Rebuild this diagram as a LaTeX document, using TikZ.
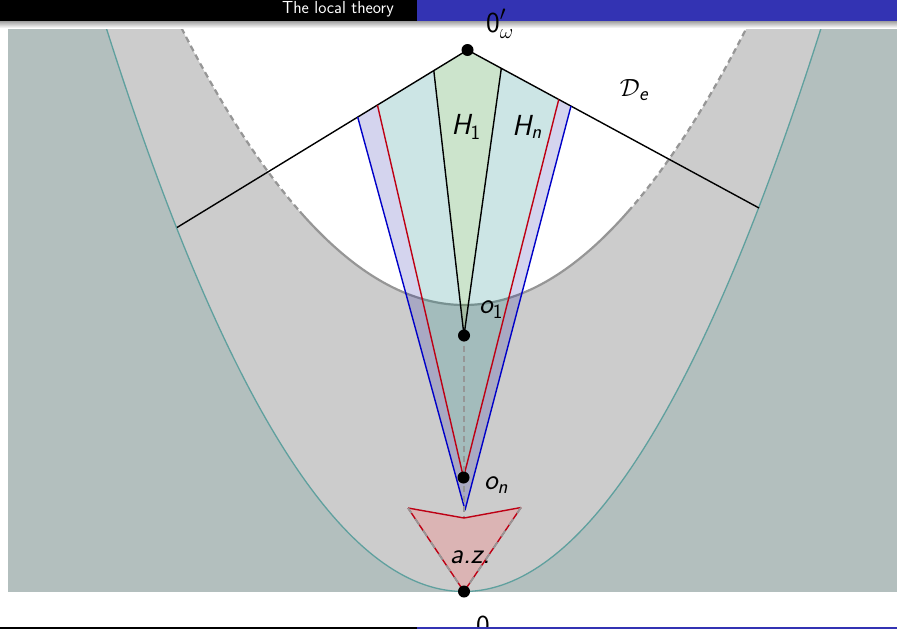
\documentclass[tikz,border=0pt]{standalone}
\usepackage{amsmath}
\usetikzlibrary{calc}
\definecolor{outerg}{RGB}{179,191,190}
\definecolor{innerg}{RGB}{204,204,204}
\definecolor{parab}{RGB}{95,160,158}
\definecolor{hdrblue}{RGB}{51,51,179}
\definecolor{lav}{RGB}{0,0,155}
\definecolor{tealf}{RGB}{0,128,128}
\definecolor{greenf}{RGB}{0,120,0}
\definecolor{azf}{RGB}{219,180,180}
\definecolor{redl}{RGB}{190,0,20}
\definecolor{bluel}{RGB}{0,0,200}
\definecolor{dashg}{RGB}{150,150,150}
\begin{document}
\begin{tikzpicture}[x=1pt,y=-1pt,line join=round,
  lbl/.style={inner sep=0pt,font=\fontsize{29}{34}\selectfont\sffamily},
  dot/.style={circle,fill=black,inner sep=0pt,minimum size=12pt},
  fanline/.style={line width=1.4pt},
  gline/.style={dashg,line width=2.2pt}]
\useasboundingbox (0,0) rectangle (897,629);
% background regions
\fill[outerg] (8,28) rectangle (897,591.5);
\fill[innerg] plot[domain=106.3:821.1,samples=140] (\x,{591.5-44.11*((\x-463.7)/100)^2}) -- cycle;
\fill[white] plot[domain=181.5:746.5,samples=140] (\x,{305-34.7*((\x-464)/100)^2}) -- cycle;
\draw[parab,line width=1.3pt] plot[domain=106.3:821.1,samples=140] (\x,{591.5-44.11*((\x-463.7)/100)^2});
\draw[gline,dash pattern=on 6pt off 4pt] plot[domain=181.5:300,samples=40] (\x,{305-34.7*((\x-464)/100)^2});
\draw[gline,dash pattern=on 6pt off 4pt] plot[domain=628:746.5,samples=40] (\x,{305-34.7*((\x-464)/100)^2});
\draw[gline] plot[domain=300:628,samples=80] (\x,{305-34.7*((\x-464)/100)^2});
% key points
\coordinate (Op) at (467.5,50);
\coordinate (Lend) at (177,227.5);
\coordinate (Rend) at (759,208);
\coordinate (H1L) at ($(Op)!0.116!(Lend)$);
\coordinate (RL) at ($(Op)!0.31!(Lend)$);
\coordinate (BL) at ($(Op)!0.378!(Lend)$);
\coordinate (H1R) at ($(Op)!0.116!(Rend)$);
\coordinate (RR) at ($(Op)!0.313!(Rend)$);
\coordinate (BR) at ($(Op)!0.355!(Rend)$);
\coordinate (o1) at (464,335.5);
\coordinate (on) at (463.5,477.5);
\coordinate (apex) at (465,510);
\coordinate (notch) at (464,518);
\coordinate (azL) at (408,508);
\coordinate (azR) at (521,507.5);
\coordinate (zero) at (464,591.5);
% fans
\fill[tealf,fill opacity=0.2] (RL) -- (H1L) -- (o1) -- (H1R) -- (RR) -- (on) -- cycle;
\fill[greenf,fill opacity=0.2] (H1L) -- (Op) -- (H1R) -- (o1) -- cycle;
\fill[lav,fill opacity=0.17] (BL) -- (RL) -- (on) -- (RR) -- (BR) -- (apex) -- cycle;
\draw[fanline] (Lend) -- (Op) -- (Rend);
\draw[fanline] (H1L) -- (o1) -- (H1R);
\draw[fanline,redl] (RL) -- (on) -- (RR);
\draw[fanline,bluel] (BL) -- (apex) -- (BR);
\draw[gline,dash pattern=on 6pt off 4pt] (o1) -- (notch);
% a.z. triangle
\fill[azf] (azL) -- (notch) -- (azR) -- (zero) -- cycle;
\draw[fanline,redl] (azL) -- (notch) -- (azR);
\draw[fanline,redl] (azR) -- (zero) -- (azL);
\draw[dashg,line width=1.8pt,dash pattern=on 7pt off 7pt] (azR) -- (zero) -- (azL);
% dots
\node[dot] (dOp) at (Op) {};
\node[dot] (do1) at (o1) {};
\node[dot] (don) at (on) {};
\node[dot] (dzero) at (zero) {};
% labels
\node[lbl] (lH1) at (466,127) {{\itshape H}$_{\textsf{1}}$};
\node[lbl] (lHn) at (527,127) {{\itshape H}$_{\textsf{\itshape n}}$};
\node[lbl] (lDe) at (634,90) {$\mathcal{D}_{\textsf{\itshape e}}$};
\node[lbl] (lo1) at (491,310) {{\itshape o}$_{\textsf{1}}$};
\node[lbl] (lon) at (496,485) {{\itshape o}$_{\textsf{\itshape n}}$};
\node[lbl] (laz) at (470,557) {\itshape a.z.};
\node[lbl,anchor=north] (lzero) at (483,616) {0};
% header
\fill[black] (0,0) rectangle (417,21);
\fill[hdrblue] (417,0) rectangle (897,21);
\shade[top color=gray!75,bottom color=white] (0,21) rectangle (897,28);
\node[font=\fontsize{17.4}{20}\selectfont\sffamily,text=white,anchor=east,inner sep=0pt] (title) at (394,9.5) {The local theory};
\node[lbl] (lOp) at (500,24) {$\textsf{0}'_{\omega}$};
% footer
\fill[black] (0,627) rectangle (417,629);
\fill[hdrblue] (417,627) rectangle (897,629);
\end{tikzpicture}
\end{document}
